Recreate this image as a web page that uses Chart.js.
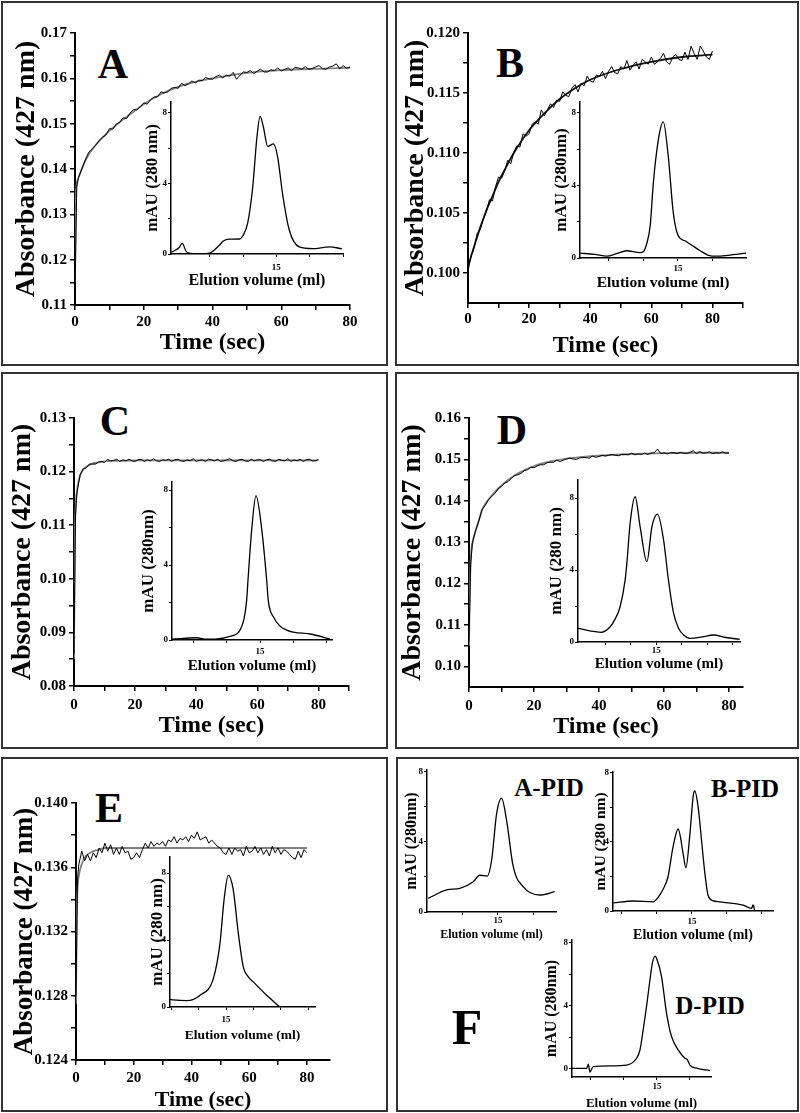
<!DOCTYPE html>
<html>
<head>
<meta charset="utf-8">
<title>Absorbance kinetics and elution profiles</title>
<script src="https://cdn.jsdelivr.net/npm/chart.js@4.4.1/dist/chart.umd.min.js"></script>
<style>
    html, body { margin: 0; padding: 0; background: #fff; }
    body { width: 800px; height: 1113px; position: relative; overflow: hidden; font-family: "Liberation Serif", "Times New Roman", serif; }
    .panel { position: absolute; box-sizing: border-box; border: 2px solid #333; }
    canvas { position: absolute; }
    .lbl { position: absolute; font-weight: bold; line-height: 1; transform: translate(-50%, -50%); color: #000; white-space: nowrap; }
</style>
</head>
<body>
<div class="panel" style="left:1px;top:1px;width:387px;height:365px"></div>
<div class="panel" style="left:395px;top:1px;width:404px;height:365px"></div>
<div class="panel" style="left:1px;top:372px;width:387px;height:377px"></div>
<div class="panel" style="left:395px;top:372px;width:404px;height:377px"></div>
<div class="panel" style="left:1px;top:757px;width:387px;height:355px"></div>
<div class="panel" style="left:396px;top:757px;width:403px;height:355px"></div>

<div class="lbl" style="left:113px;top:64px;font-size:42px">A</div>
<div class="lbl" style="left:510px;top:63px;font-size:42px">B</div>
<div class="lbl" style="left:115px;top:421px;font-size:42px">C</div>
<div class="lbl" style="left:512px;top:430px;font-size:42px">D</div>
<div class="lbl" style="left:109px;top:808px;font-size:42px">E</div>
<div class="lbl" style="left:549px;top:787px;font-size:25px">A-PID</div>
<div class="lbl" style="left:745px;top:788px;font-size:25px">B-PID</div>
<div class="lbl" style="left:710px;top:1005px;font-size:25px">D-PID</div>
<div class="lbl" style="left:467px;top:1027px;font-size:50px">F</div>

<script>
// time grids (sec)
var noiseTime = [0, 0.5, 1, 2, 3, 4, 5, 6, 7, 8, 9, 10, 11, 12, 13, 14, 15, 16, 17, 18, 19, 20,
    21, 22, 23, 24, 25, 26, 27, 28, 29, 30, 31, 32, 33, 34, 35, 36, 37, 38, 39, 40,
    41, 42, 43, 44, 45, 46, 47, 48, 49, 50, 51, 52, 53, 54, 55, 56, 57, 58, 59, 60,
    61, 62, 63, 64, 65, 66, 67, 68, 69, 70, 71, 72, 73, 74, 75, 76, 77, 78, 79, 80];
var fitTime = [0, 0.25, 0.5, 1, 1.5, 2, 3, 4, 5, 6, 8, 10, 12, 15, 20, 25, 30, 35, 40, 50, 60, 70, 80];

// panel A
var aNoisy = [0.1125, 0.1360, 0.1381, 0.1400, 0.1420, 0.1437, 0.1444, 0.1452, 0.1463, 0.1470, 0.1475, 0.1489,
    0.1488, 0.1499, 0.1503, 0.1513, 0.1511, 0.1523, 0.1531, 0.1530, 0.1537, 0.1546,
    0.1543, 0.1553, 0.1559, 0.1559, 0.1570, 0.1568, 0.1570, 0.1578, 0.1580, 0.1578,
    0.1589, 0.1584, 0.1588, 0.1594, 0.1590, 0.1596, 0.1595, 0.1602, 0.1599, 0.1598,
    0.1604, 0.1607, 0.1601, 0.1607, 0.1605, 0.1613, 0.1598, 0.1607, 0.1614, 0.1613,
    0.1617, 0.1610, 0.1616, 0.1620, 0.1614, 0.1614, 0.1619, 0.1617, 0.1623, 0.1616,
    0.1620, 0.1623, 0.1617, 0.1624, 0.1623, 0.1620, 0.1626, 0.1620, 0.1622, 0.1625,
    0.1628, 0.1621, 0.1620, 0.1625, 0.1627, 0.1632, 0.1621, 0.1628, 0.1622, 0.1625];
var aFit = [0.1150, 0.1330, 0.1366, 0.1380, 0.1391, 0.1401, 0.1418, 0.1432, 0.1443, 0.1453, 0.1469, 0.1484,
    0.1497, 0.1515, 0.1543, 0.1565, 0.1581, 0.1592, 0.1600, 0.1612, 0.1618, 0.1621, 0.1623];
var aVol = [7.12, 7.7, 7.94, 8.29, 9.24, 9.98, 10.73, 11.0, 11.48, 12.23, 12.5, 12.85, 13.23, 13.53, 13.78,
    14.03, 14.35, 14.78, 15.1, 15.47, 15.97, 16.72, 17.72, 18.97, 19.92];
var aMau = [0.1, 0.35, 0.6, 0.1, 0.0, 0.05, 0.5, 0.72, 0.84, 0.85, 1.05, 1.75, 3.8, 6.5, 7.8,
    7.2, 6.1, 6.25, 5.5, 3.4, 1.36, 0.4, 0.3, 0.4, 0.3];

// panel B
var bNoisy = [0.1000, 0.1009, 0.1014, 0.1021, 0.1033, 0.1036, 0.1045, 0.1051, 0.1061, 0.1060, 0.1072, 0.1080,
    0.1079, 0.1085, 0.1094, 0.1091, 0.1101, 0.1106, 0.1105, 0.1116, 0.1114, 0.1116,
    0.1124, 0.1126, 0.1124, 0.1136, 0.1131, 0.1136, 0.1141, 0.1138, 0.1144, 0.1143,
    0.1151, 0.1148, 0.1147, 0.1154, 0.1157, 0.1151, 0.1158, 0.1156, 0.1164, 0.1160,
    0.1159, 0.1165, 0.1164, 0.1168, 0.1162, 0.1168, 0.1172, 0.1167, 0.1166, 0.1172,
    0.1170, 0.1177, 0.1169, 0.1173, 0.1176, 0.1170, 0.1178, 0.1176, 0.1174, 0.1180,
    0.1174, 0.1176, 0.1179, 0.1183, 0.1176, 0.1174, 0.1180, 0.1182, 0.1178, 0.1177,
    0.1184, 0.1178, 0.1189, 0.1183, 0.1178, 0.1189, 0.1185, 0.1180, 0.1178, 0.1185];
var bFit = [0.1005, 0.1007, 0.1009, 0.1014, 0.1018, 0.1022, 0.1030, 0.1038, 0.1045, 0.1052, 0.1064, 0.1076,
    0.1086, 0.1100, 0.1119, 0.1133, 0.1145, 0.1154, 0.1161, 0.1170, 0.1176, 0.1180, 0.1182];
var bVol = [7.95, 9.0, 9.86, 10.6, 11.3, 12.26, 12.5, 12.75, 13.0, 13.22, 13.58, 13.94, 14.3, 14.66, 15.0,
    15.5, 16.0, 16.6, 17.2, 17.8, 18.6, 19.9];
var bMau = [0.27, 0.2, 0.1, 0.25, 0.4, 0.3, 0.35, 0.8, 1.8, 4.1, 6.5, 7.5, 5.6, 2.5, 1.25,
    0.95, 0.7, 0.4, 0.15, 0.1, 0.15, 0.27];

// panel C
var cNoisy = [0.0860, 0.1120, 0.1162, 0.1194, 0.1205, 0.1207, 0.1214, 0.1214, 0.1214, 0.1218, 0.1219, 0.1217,
    0.1223, 0.1220, 0.1221, 0.1223, 0.1219, 0.1222, 0.1220, 0.1223, 0.1220, 0.1219,
    0.1222, 0.1223, 0.1219, 0.1222, 0.1220, 0.1224, 0.1220, 0.1219, 0.1222, 0.1221,
    0.1223, 0.1219, 0.1222, 0.1223, 0.1220, 0.1219, 0.1222, 0.1220, 0.1224, 0.1219,
    0.1221, 0.1222, 0.1219, 0.1223, 0.1222, 0.1220, 0.1223, 0.1219, 0.1220, 0.1222,
    0.1224, 0.1220, 0.1219, 0.1222, 0.1223, 0.1220, 0.1219, 0.1223, 0.1220, 0.1222,
    0.1222, 0.1219, 0.1222, 0.1223, 0.1220, 0.1219, 0.1223, 0.1221, 0.1220, 0.1224,
    0.1219, 0.1222, 0.1220, 0.1223, 0.1219, 0.1222, 0.1223, 0.1220, 0.1220, 0.1223];
var cFit = [0.0850, 0.1060, 0.1128, 0.1165, 0.1182, 0.1193, 0.1204, 0.1209, 0.1212, 0.1215, 0.1217, 0.1219,
    0.1220, 0.1220, 0.1221, 0.1221, 0.1221, 0.1221, 0.1221, 0.1221, 0.1221, 0.1221, 0.1221];
var cVol = [8.4, 10.26, 10.86, 11.62, 12.74, 13.5, 14.0, 14.1, 14.38, 14.7, 15.13, 15.5, 15.62, 16.0,
    17.0, 18.76, 20.26];
var cMau = [0.05, 0.12, 0.05, 0.05, 0.2, 0.53, 2.13, 3.2, 5.9, 7.7, 5.9, 3.2, 2.1, 1.24,
    0.53, 0.32, 0.05];

// panel D
var dNoisy = [0.1060, 0.1245, 0.1296, 0.1328, 0.1350, 0.1378, 0.1389, 0.1403, 0.1410, 0.1418, 0.1429, 0.1435,
    0.1443, 0.1446, 0.1454, 0.1461, 0.1463, 0.1466, 0.1473, 0.1475, 0.1481, 0.1480,
    0.1484, 0.1487, 0.1487, 0.1492, 0.1493, 0.1493, 0.1498, 0.1495, 0.1498, 0.1501,
    0.1503, 0.1501, 0.1500, 0.1503, 0.1505, 0.1504, 0.1503, 0.1508, 0.1505, 0.1507,
    0.1510, 0.1508, 0.1510, 0.1512, 0.1510, 0.1509, 0.1512, 0.1512, 0.1511, 0.1515,
    0.1511, 0.1513, 0.1512, 0.1515, 0.1512, 0.1515, 0.1516, 0.1525, 0.1514, 0.1516,
    0.1513, 0.1516, 0.1516, 0.1514, 0.1517, 0.1515, 0.1514, 0.1517, 0.1521, 0.1514,
    0.1519, 0.1515, 0.1516, 0.1518, 0.1514, 0.1516, 0.1515, 0.1518, 0.1515, 0.1515];
var dFit = [0.1050, 0.1180, 0.1250, 0.1295, 0.1313, 0.1326, 0.1352, 0.1378, 0.1392, 0.1403, 0.1422, 0.1437,
    0.1450, 0.1466, 0.1484, 0.1495, 0.1502, 0.1506, 0.1509, 0.1513, 0.1515, 0.1516, 0.1516];
var dVol = [7.35, 8.5, 9.6, 10.5, 11.0, 11.47, 11.96, 12.13, 12.45, 12.94, 13.43, 14.09, 14.58, 15.13,
    15.72, 16.2, 16.7, 17.2, 17.68, 18.33, 19.5, 20.6, 21.8, 23.17];
var dMau = [0.76, 0.62, 0.54, 0.85, 1.3, 1.96, 3.44, 4.37, 6.6, 8.07, 6.4, 4.46, 6.4, 7.1,
    5.67, 3.44, 1.6, 0.75, 0.39, 0.2, 0.28, 0.39, 0.25, 0.15];

// panel E
var eNoisy = [0.1280, 0.1352, 0.1362, 0.1370, 0.1364, 0.1368, 0.1364, 0.1369, 0.1366, 0.1372, 0.1369, 0.1375,
    0.1370, 0.1374, 0.1368, 0.1372, 0.1368, 0.1373, 0.1369, 0.1370, 0.1365, 0.1366,
    0.1369, 0.1366, 0.1371, 0.1375, 0.1372, 0.1376, 0.1373, 0.1375, 0.1374, 0.1376,
    0.1373, 0.1377, 0.1376, 0.1379, 0.1375, 0.1378, 0.1377, 0.1379, 0.1376, 0.1380,
    0.1378, 0.1382, 0.1377, 0.1378, 0.1379, 0.1375, 0.1377, 0.1375, 0.1373, 0.1372,
    0.1369, 0.1368, 0.1372, 0.1368, 0.1372, 0.1370, 0.1371, 0.1367, 0.1373, 0.1369,
    0.1370, 0.1373, 0.1369, 0.1372, 0.1368, 0.1371, 0.1367, 0.1373, 0.1369, 0.1372,
    0.1368, 0.1371, 0.1370, 0.1368, 0.1366, 0.1365, 0.1370, 0.1366, 0.1371, 0.1369];
var eFit = [0.1275, 0.1325, 0.1345, 0.1355, 0.1359, 0.1362, 0.1366, 0.1368, 0.1369, 0.1370, 0.1371, 0.1372,
    0.1372, 0.1372, 0.1372, 0.1372, 0.1372, 0.1372, 0.1372, 0.1372, 0.1372, 0.1372, 0.1372];
var eVol = [9.9, 10.2, 11.43, 12.64, 13.85, 14.45, 14.82, 15.21, 15.66, 16.12, 16.57, 17.03, 17.48, 18.7, 19.9];
var eMau = [0.45, 0.42, 0.38, 0.7, 1.71, 3.8, 6.4, 7.88, 7.0, 4.4, 2.4, 1.8, 1.5, 0.7, 0.0];

// panel F
var apidVol = [10.09, 11.39, 12.32, 13.26, 13.73, 14.25, 14.56, 14.91, 15.26, 15.61, 16.08, 16.78, 17.96, 19.01];
var apidMau = [0.78, 1.26, 1.35, 1.73, 2.1, 2.05, 2.97, 5.6, 6.5, 5.26, 2.6, 1.45, 0.97, 1.16];
var bpidVol = [9.38, 10.81, 12.24, 12.6, 12.95, 13.29, 13.65, 14.02, 14.38, 14.57, 14.86, 15.1, 15.21, 15.45,
    15.69, 15.93, 16.16, 16.5, 17.0, 18.66, 19.26, 19.38, 19.5];
var bpidMau = [0.47, 0.58, 0.53, 0.8, 1.27, 1.97, 3.7, 4.75, 3.3, 2.5, 4.47, 6.7, 6.95, 6.0,
    4.1, 2.17, 0.9, 0.6, 0.53, 0.34, 0.15, 0.35, 0.0];
var dpidVol = [8.54, 9.67, 9.8, 9.92, 10.17, 11.5, 12.7, 13.46, 13.71, 13.96, 14.21, 14.47, 14.65, 14.85,
    15.02, 15.35, 15.73, 16.11, 16.61, 17.12, 17.3, 17.5, 18.0, 19.02];
var dpidMau = [0.04, 0.04, 0.3, -0.2, 0.15, 0.2, 0.25, 0.68, 1.2, 2.5, 3.95, 5.65, 6.7, 7.17,
    6.92, 5.86, 3.53, 2.05, 1.21, 0.68, 0.6, 0.25, 0.05, -0.1];

// tick values and labels
var timeTicks80 = [0, 10, 20, 30, 40, 50, 60, 70, 80];
var timeLabels80 = ['0', '', '20', '', '40', '', '60', '', '80'];
var timeTicks90 = [0, 10, 20, 30, 40, 50, 60, 70, 80, 90];
var timeLabels90 = ['0', '', '20', '', '40', '', '60', '', '80', ''];
var aYTicks = [0.11, 0.115, 0.12, 0.125, 0.13, 0.135, 0.14, 0.145, 0.15, 0.155, 0.16, 0.165, 0.17];
var aYLabels = ['0.11', '', '0.12', '', '0.13', '', '0.14', '', '0.15', '', '0.16', '', '0.17'];
var bYTicks = [0.1, 0.1025, 0.105, 0.1075, 0.11, 0.1125, 0.115, 0.1175, 0.12];
var bYLabels = ['0.100', '', '0.105', '', '0.110', '', '0.115', '', '0.120'];
var cYTicks = [0.08, 0.085, 0.09, 0.095, 0.1, 0.105, 0.11, 0.115, 0.12, 0.125, 0.13];
var cYLabels = ['0.08', '', '0.09', '', '0.10', '', '0.11', '', '0.12', '', '0.13'];
var dYTicks = [0.1, 0.105, 0.11, 0.115, 0.12, 0.125, 0.13, 0.135, 0.14, 0.145, 0.15, 0.155, 0.16];
var dYLabels = ['0.10', '', '0.11', '', '0.12', '', '0.13', '', '0.14', '', '0.15', '', '0.16'];
var eYTicks = [0.124, 0.126, 0.128, 0.13, 0.132, 0.134, 0.136, 0.138, 0.14];
var eYLabels = ['0.124', '', '0.128', '', '0.132', '', '0.136', '', '0.140'];
var mauTicks = [0, 2, 4, 6, 8];
var mauLabels = ['0', '', '4', '', '8'];
var volTicksA = [10, 12.5, 15, 17.5, 20];
var volLabelsA = ['', '', '15', '', ''];
var volTicksB = [10, 12.5, 15, 17.5];
var volLabelsB = ['', '', '15', ''];
var volTicksD = [10, 12.5, 15, 17.5, 20, 22.5];
var volLabelsD = ['', '', '15', '', '', ''];
var volTicksF1 = [12.5, 15, 17.5];
var volLabelsF1 = ['', '15', ''];

Chart.defaults.font.family = '"Liberation Serif", "Times New Roman", serif';
Chart.defaults.font.weight = 'bold';
Chart.defaults.color = '#000';

function pts(xs, ys) {
    return xs.map(function (x, i) { return { x: x, y: ys[i] }; });
}

function axis(o) {
    return {
        type: 'linear',
        position: o.pos,
        min: o.min,
        max: o.max,
        afterBuildTicks: function (s) {
            s.ticks = o.ticks.map(function (v) { return { value: v }; });
        },
        afterFit: function (s) {
            if (o.pos === 'left') s.width = o.size; else s.height = o.size;
            s.paddingLeft = 0; s.paddingRight = 0; s.paddingTop = 0; s.paddingBottom = 0;
        },
        ticks: {
            autoSkip: false, maxRotation: 0, minRotation: 0,
            padding: o.tickPad, color: '#000',
            font: { size: o.tickSize, weight: 'bold' },
            callback: function (v, i) { return o.labels[i]; }
        },
        grid: { display: true, drawOnChartArea: false, drawTicks: true, tickLength: o.tickLen, color: '#000', lineWidth: o.lw },
        border: { display: true, color: '#000', width: o.bw },
        title: { display: true, text: o.title, padding: 0, color: '#000', font: { size: o.titleSize, weight: 'bold', lineHeight: 1 } }
    };
}

function drawPlot(s) {
    var p = s.plot;
    var left = Math.round(s.yTitleX - s.yTitleSize / 2);
    var top = p.t - s.topPad;
    var right = p.r + s.rightPad;
    var bottom = Math.round(s.xTitleY + s.xTitleSize / 2);
    var canvas = document.createElement('canvas');
    canvas.width = right - left;
    canvas.height = bottom - top;
    canvas.style.left = left + 'px';
    canvas.style.top = top + 'px';
    canvas.style.width = canvas.width + 'px';
    canvas.style.height = canvas.height + 'px';
    document.body.appendChild(canvas);

    var main = s.main;
    return new Chart(canvas, {
        type: 'line',
        data: { datasets: s.datasets },
        options: {
            responsive: false,
            animation: false,
            layout: { padding: { top: s.topPad, right: s.rightPad, left: 0, bottom: 0 } },
            plugins: { legend: { display: false }, tooltip: { enabled: false } },
            elements: { point: { radius: 0 } },
            scales: {
                x: axis({
                    pos: 'bottom', min: s.xMin, max: s.xMax, ticks: s.xTicks, labels: s.xLabels,
                    size: bottom - p.b, tickPad: s.xTickPad, tickSize: main ? 15 : 9,
                    tickLen: main ? 5 : 3, lw: main ? 1.5 : 1, bw: main ? 2 : 1.5,
                    title: s.xTitle, titleSize: s.xTitleSize
                }),
                y: axis({
                    pos: 'left', min: s.yMin, max: s.yMax, ticks: s.yTicks, labels: s.yLabels,
                    size: p.l - left, tickPad: main ? 3 : 1, tickSize: main ? 15 : 9,
                    tickLen: main ? 5 : 3, lw: main ? 1.5 : 1, bw: main ? 2 : 1.5,
                    title: s.yTitle, titleSize: s.yTitleSize
                })
            }
        }
    });
}

// noisy trace first so it is drawn over the smooth fit
function kinetic(noisy, fit, fitColor) {
    return [
        { data: pts(noiseTime, noisy), borderColor: '#000', borderWidth: 1, tension: 0, pointRadius: 0 },
        { data: pts(fitTime, fit), borderColor: fitColor, borderWidth: 1.8, cubicInterpolationMode: 'monotone', pointRadius: 0 }
    ];
}

function profile(vol, mau) {
    return [{ data: pts(vol, mau), borderColor: '#000', borderWidth: 1.3, cubicInterpolationMode: 'monotone', pointRadius: 0 }];
}

var absTitle = 'Absorbance (427 nm)';
var timeTitle = 'Time (sec)';
var volTitle = 'Elution volume (ml)';

// main kinetic panels
drawPlot({ main: true, plot: { l: 75, t: 33, r: 350, b: 305 }, topPad: 12, rightPad: 16,
    yTitleX: 27, yTitleSize: 28, xTitleY: 343, xTitleSize: 24, xTickPad: 3,
    xMin: 0, xMax: 80, xTicks: timeTicks80, xLabels: timeLabels80,
    yMin: 0.11, yMax: 0.17, yTicks: aYTicks, yLabels: aYLabels,
    xTitle: timeTitle, yTitle: absTitle, datasets: kinetic(aNoisy, aFit, '#808080') });

drawPlot({ main: true, plot: { l: 468, t: 33, r: 743, b: 303 }, topPad: 12, rightPad: 16,
    yTitleX: 416, yTitleSize: 28, xTitleY: 346, xTitleSize: 24, xTickPad: 2,
    xMin: 0, xMax: 90, xTicks: timeTicks90, xLabels: timeLabels90,
    yMin: 0.0975, yMax: 0.12, yTicks: bYTicks, yLabels: bYLabels,
    xTitle: timeTitle, yTitle: absTitle, datasets: kinetic(bNoisy, bFit, '#111') });

drawPlot({ main: true, plot: { l: 74, t: 418, r: 349, b: 686 }, topPad: 12, rightPad: 16,
    yTitleX: 23, yTitleSize: 28, xTitleY: 726, xTitleSize: 24, xTickPad: 5,
    xMin: 0, xMax: 90, xTicks: timeTicks90, xLabels: timeLabels90,
    yMin: 0.08, yMax: 0.13, yTicks: cYTicks, yLabels: cYLabels,
    xTitle: timeTitle, yTitle: absTitle, datasets: kinetic(cNoisy, cFit, '#808080') });

drawPlot({ main: true, plot: { l: 469, t: 418, r: 743, b: 687 }, topPad: 12, rightPad: 16,
    yTitleX: 413, yTitleSize: 28, xTitleY: 727, xTitleSize: 24, xTickPad: 5,
    xMin: 0, xMax: 84.3, xTicks: timeTicks80, xLabels: timeLabels80,
    yMin: 0.095, yMax: 0.16, yTicks: dYTicks, yLabels: dYLabels,
    xTitle: timeTitle, yTitle: absTitle, datasets: kinetic(dNoisy, dFit, '#808080') });

drawPlot({ main: true, plot: { l: 76, t: 803, r: 330, b: 1060 }, topPad: 12, rightPad: 16,
    yTitleX: 25, yTitleSize: 27, xTitleY: 1100, xTitleSize: 22, xTickPad: 4,
    xMin: 0, xMax: 88, xTicks: timeTicks80, xLabels: timeLabels80,
    yMin: 0.124, yMax: 0.14, yTicks: eYTicks, yLabels: eYLabels,
    xTitle: timeTitle, yTitle: absTitle, datasets: kinetic(eNoisy, eFit, '#808080') });

// inset elution profiles
drawPlot({ plot: { l: 171, t: 102, r: 343, b: 254 }, topPad: 8, rightPad: 6,
    yTitleX: 152, yTitleSize: 17, xTitleY: 281, xTitleSize: 16, xTickPad: 5,
    xMin: 7.1, xMax: 20, xTicks: volTicksA, xLabels: volLabelsA,
    yMin: 0, yMax: 8.62, yTicks: mauTicks, yLabels: mauLabels,
    xTitle: volTitle, yTitle: 'mAU (280 nm)', datasets: profile(aVol, aMau) });

drawPlot({ plot: { l: 580, t: 102, r: 746, b: 258 }, topPad: 8, rightPad: 6,
    yTitleX: 561, yTitleSize: 17, xTitleY: 283, xTitleSize: 15.5, xTickPad: 2,
    xMin: 7.94, xMax: 19.9, xTicks: volTicksB, xLabels: volLabelsB,
    yMin: 0, yMax: 8.6, yTicks: mauTicks, yLabels: mauLabels,
    xTitle: volTitle, yTitle: 'mAU (280nm)', datasets: profile(bVol, bMau) });

drawPlot({ plot: { l: 172, t: 482, r: 332, b: 640 }, topPad: 8, rightPad: 6,
    yTitleX: 148, yTitleSize: 17, xTitleY: 666, xTitleSize: 15, xTickPad: 3,
    xMin: 8.4, xMax: 20.4, xTicks: volTicksA, xLabels: volLabelsA,
    yMin: 0, yMax: 8.43, yTicks: mauTicks, yLabels: mauLabels,
    xTitle: volTitle, yTitle: 'mAU (280nm)', datasets: profile(cVol, cMau) });

drawPlot({ plot: { l: 578, t: 480, r: 740, b: 642 }, topPad: 8, rightPad: 6,
    yTitleX: 556, yTitleSize: 17, xTitleY: 664, xTitleSize: 15, xTickPad: 0,
    xMin: 7.35, xMax: 23.2, xTicks: volTicksD, xLabels: volLabelsD,
    yMin: 0, yMax: 9.0, yTicks: mauTicks, yLabels: mauLabels,
    xTitle: volTitle, yTitle: 'mAU (280 nm)', datasets: profile(dVol, dMau) });

drawPlot({ plot: { l: 170, t: 857, r: 315, b: 1007 }, topPad: 8, rightPad: 6,
    yTitleX: 157, yTitleSize: 17, xTitleY: 1035, xTitleSize: 13.5, xTickPad: 4,
    xMin: 9.9, xMax: 23.1, xTicks: volTicksD, xLabels: volLabelsD,
    yMin: 0, yMax: 8.96, yTicks: mauTicks, yLabels: mauLabels,
    xTitle: volTitle, yTitle: 'mAU (280 nm)', datasets: profile(eVol, eMau) });

// panel F
drawPlot({ plot: { l: 427, t: 770, r: 556, b: 912 }, topPad: 8, rightPad: 6,
    yTitleX: 412, yTitleSize: 16, xTitleY: 935, xTitleSize: 12, xTickPad: 0,
    xMin: 10, xMax: 19.1, xTicks: volTicksF1, xLabels: volLabelsF1,
    yMin: 0, yMax: 8.11, yTicks: mauTicks, yLabels: mauLabels,
    xTitle: volTitle, yTitle: 'mAU (280nm)', datasets: profile(apidVol, apidMau) });

drawPlot({ plot: { l: 613, t: 772, r: 773, b: 911 }, topPad: 8, rightPad: 6,
    yTitleX: 601, yTitleSize: 15.5, xTitleY: 935, xTitleSize: 14, xTickPad: 2,
    xMin: 9.36, xMax: 20.8, xTicks: volTicksA, xLabels: volLabelsA,
    yMin: 0, yMax: 8.05, yTicks: mauTicks, yLabels: mauLabels,
    xTitle: volTitle, yTitle: 'mAU (280 nm)', datasets: profile(bpidVol, bpidMau) });

drawPlot({ plot: { l: 572, t: 940, r: 711, b: 1077 }, topPad: 8, rightPad: 6,
    yTitleX: 552, yTitleSize: 16, xTitleY: 1103, xTitleSize: 13, xTickPad: 1,
    xMin: 8.56, xMax: 19.1, xTicks: volTicksB, xLabels: volLabelsB,
    yMin: -0.51, yMax: 8.19, yTicks: mauTicks, yLabels: mauLabels,
    xTitle: volTitle, yTitle: 'mAU (280nm)', datasets: profile(dpidVol, dpidMau) });
</script>
</body>
</html>
